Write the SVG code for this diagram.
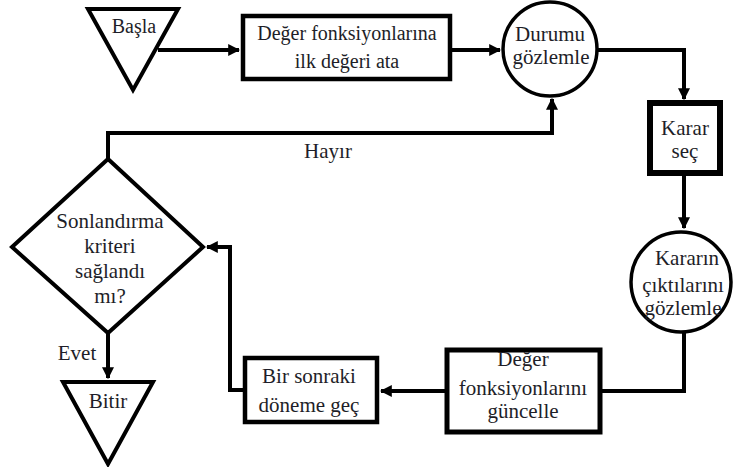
<svg xmlns="http://www.w3.org/2000/svg" width="736" height="467" viewBox="0 0 736 467">
<style>
.s{fill:#fff;stroke:#000;stroke-linejoin:miter}
.t{font-family:'Liberation Serif','Times New Roman',serif;font-size:21px;fill:#1e1e28;text-anchor:middle}
.c{fill:none;stroke:#000;stroke-width:4;stroke-linejoin:miter}
</style>
<defs>
<marker id="ah" viewBox="0 0 10 10" refX="9" refY="5" markerWidth="3" markerHeight="3" orient="auto" markerUnits="strokeWidth">
<path d="M0,0 L10,5 L0,10 z" fill="#000"/>
</marker>
</defs>
<rect width="736" height="467" fill="#fff"/>
<g id="connectors">
<path class="c" d="M158,50 H239" marker-end="url(#ah)"/>
<path class="c" d="M450,50 H500" marker-end="url(#ah)"/>
<path class="c" d="M598,50 H684 V99" marker-end="url(#ah)"/>
<path class="c" d="M684,173 V228" marker-end="url(#ah)"/>
<path class="c" d="M684,332 V391 H600"/>
<path class="c" d="M447,391 H381" marker-end="url(#ah)"/>
<path class="c" d="M245,390 H230 V247 H207" marker-end="url(#ah)"/>
<path class="c" d="M108,159 V133 H552 V99" marker-end="url(#ah)"/>
<path class="c" d="M108,333 V378" marker-end="url(#ah)"/>
<text class="t" x="328" y="158">Hayır</text>
<text class="t" x="77" y="360">Evet</text>
</g>
<g id="basla">
<polygon class="s" stroke-width="4" points="88,9 178,9 133,90"/>
<text class="t" x="134" y="33" style="font-size:20px">Başla</text>
</g>
<g id="ilk-deger">
<rect class="s" stroke-width="4.5" x="243" y="16" width="207" height="63"/>
<text class="t" x="347" y="40" style="font-size:20px">Değer fonksiyonlarına</text>
<text class="t" x="347" y="68" style="font-size:20px">ilk değeri ata</text>
</g>
<g id="durumu">
<circle class="s" stroke-width="3.5" cx="550" cy="49" r="47"/>
<text class="t" x="550" y="41">Durumu</text>
<text class="t" x="551" y="64">gözlemle</text>
</g>
<g id="karar">
<rect class="s" stroke-width="6" x="650" y="103" width="70" height="70"/>
<text class="t" x="685" y="135">Karar</text>
<text class="t" x="685" y="158">seç</text>
</g>
<g id="kararin">
<circle class="s" stroke-width="3.5" cx="681" cy="282" r="50"/>
<text class="t" x="687" y="265">Kararın</text>
<text class="t" x="683" y="292">çıktılarını</text>
<text class="t" x="683" y="315">gözlemle</text>
</g>
<g id="guncelle">
<rect class="s" stroke-width="5" x="447" y="350" width="153" height="82"/>
<text class="t" x="523" y="366">Değer</text>
<text class="t" x="523" y="395">fonksiyonlarını</text>
<text class="t" x="523" y="418">güncelle</text>
</g>
<g id="sonraki">
<rect class="s" stroke-width="4.5" x="245" y="358" width="132" height="64"/>
<text class="t" x="309" y="383">Bir sonraki</text>
<text class="t" x="309" y="412">döneme geç</text>
</g>
<g id="kriter">
<polygon class="s" stroke-width="4" points="108,159 203,247 108,333 12,247"/>
<text class="t" x="110" y="228">Sonlandırma</text>
<text class="t" x="110" y="253">kriteri</text>
<text class="t" x="110" y="278">sağlandı</text>
<text class="t" x="110" y="303">mı?</text>
</g>
<g id="bitir">
<polygon class="s" stroke-width="4" points="63,382 153,382 108,464"/>
<text class="t" x="108" y="408">Bitir</text>
</g>
</svg>
